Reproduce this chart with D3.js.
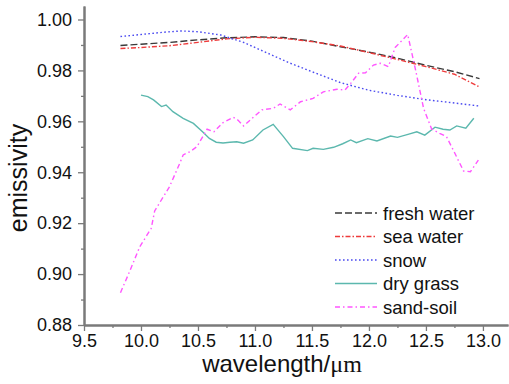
<!DOCTYPE html>
<html>
<head>
<meta charset="utf-8">
<script src="https://cdn.jsdelivr.net/npm/d3@7"></script>
<style>
  body { margin: 0; background: #fff; }
  svg { display: block; font-family: "Liberation Sans", Arial, sans-serif; }
</style>
</head>
<body>
<svg id="chart"></svg>
<script>
/* constants */
const SVG_WIDTH = 509;
const SVG_HEIGHT = 384;
const AXIS_COLOR = '#7a7a7a';

// tick values
const X_TICKS = [9.5, 10.0, 10.5, 11.0, 11.5, 12.0, 12.5, 13.0];
const X_MINOR = [9.75, 10.25, 10.75, 11.25, 11.75, 12.25, 12.75];
const Y_TICKS = [0.88, 0.90, 0.92, 0.94, 0.96, 0.98, 1.00];
const Y_MINOR = [0.89, 0.91, 0.93, 0.95, 0.97, 0.99];

// series data
const freshWaterWl = [9.82, 10.0, 10.25, 10.5, 10.75, 11.0, 11.25, 11.5, 11.75, 12.0, 12.25, 12.5, 12.75, 12.97];
const freshWater = [0.9898, 0.9903, 0.9910, 0.9920, 0.9928, 0.9932, 0.9929, 0.9915, 0.9893, 0.9872, 0.9848, 0.9820, 0.9795, 0.9768];

const seaWaterWl = [9.82, 10.0, 10.25, 10.5, 10.75, 11.0, 11.25, 11.5, 11.75, 12.0, 12.25, 12.5, 12.75, 12.97];
const seaWater = [0.9886, 0.9890, 0.9897, 0.9910, 0.9924, 0.9930, 0.9926, 0.9913, 0.9896, 0.9870, 0.9843, 0.9815, 0.9785, 0.9735];

const snowWl = [9.82, 10.0, 10.2, 10.35, 10.5, 10.7, 10.9, 11.1, 11.3, 11.5, 11.75, 12.0, 12.25, 12.5, 12.75, 12.97];
const snow = [0.9933, 0.9941, 0.9950, 0.9955, 0.9952, 0.9939, 0.9910, 0.9870, 0.9830, 0.9795, 0.9752, 0.9722, 0.9702, 0.9685, 0.9672, 0.9660];

const dryGrassWl = [10.0, 10.06, 10.11, 10.18, 10.22, 10.28, 10.37, 10.46, 10.54, 10.6, 10.66, 10.72, 10.78, 10.84, 10.9, 10.98,
    11.07, 11.16, 11.25, 11.33, 11.46, 11.51, 11.6, 11.69, 11.77, 11.84, 11.89, 11.99, 12.07, 12.19, 12.25, 12.35,
    12.42, 12.49, 12.58, 12.65, 12.71, 12.77, 12.85, 12.92];
const dryGrass = [0.9703, 0.9697, 0.9684, 0.9658, 0.9664, 0.9638, 0.9612, 0.9592, 0.9559, 0.9533, 0.9518, 0.9515, 0.9518, 0.9520, 0.9514, 0.9527,
    0.9566, 0.9588, 0.9540, 0.9494, 0.9485, 0.9494, 0.9490, 0.9498, 0.9512, 0.9527, 0.9516, 0.9532, 0.9523, 0.9542, 0.9537, 0.9550,
    0.9559, 0.9546, 0.9577, 0.9569, 0.9566, 0.9582, 0.9573, 0.9612];

const sandSoilWl = [9.82, 9.9, 9.99, 10.09, 10.12, 10.25, 10.34, 10.37, 10.43, 10.49, 10.55, 10.58, 10.64, 10.72, 10.81, 10.85,
    10.9, 10.99, 11.06, 11.16, 11.22, 11.31, 11.4, 11.51, 11.6, 11.72, 11.79, 11.84, 11.91, 11.97, 12.04, 12.1,
    12.17, 12.23, 12.34, 12.41, 12.48, 12.55, 12.62, 12.68, 12.74, 12.83, 12.89, 12.96];
const sandSoil = [0.8927, 0.9010, 0.9108, 0.9180, 0.9248, 0.9343, 0.9435, 0.9468, 0.9481, 0.9500, 0.9546, 0.9569, 0.9559, 0.9595, 0.9616, 0.9605,
    0.9582, 0.9618, 0.9645, 0.9651, 0.9668, 0.9645, 0.9677, 0.9690, 0.9716, 0.9726, 0.9723, 0.9749, 0.9789, 0.9791, 0.9821, 0.9828,
    0.9815, 0.9890, 0.9941, 0.9800, 0.9650, 0.9570, 0.9553, 0.9540, 0.9487, 0.9405, 0.9402, 0.9448];

const seriesNames = ['fresh water', 'sea water', 'snow', 'dry grass', 'sand-soil'];
const seriesColors = ['#3a3a3a', '#ee3b3b', '#4a4af0', '#5cb8ae', '#ff55ff'];
const seriesDashes = ['7,3', '5,2,1.5,2', '1.6,2.4', null, '5,3,1.5,3'];

const series = [
    [freshWaterWl, freshWater],
    [seaWaterWl, seaWater],
    [snowWl, snow],
    [dryGrassWl, dryGrass],
    [sandSoilWl, sandSoil]
].map(([wl, v], i) => ({
    name: seriesNames[i], color: seriesColors[i], dash: seriesDashes[i],
    points: wl.map((w, j) => [w, v[j]])
}));

// svg
const svg = d3.select('#chart').attr('width', SVG_WIDTH).attr('height', SVG_HEIGHT);

// scales
const xScale = d3.scaleLinear().domain([9.5, 13.22]).range([84, 508]);
const yScale = d3.scaleLinear().domain([0.88, 1.0053]).range([325, 6]);

// axes (major + minor)
function styleAxis(g) {
    g.select('.domain').attr('stroke', AXIS_COLOR).attr('stroke-width', 2);
    g.selectAll('.tick line').attr('stroke', AXIS_COLOR).attr('stroke-width', 1.3);
    g.selectAll('.tick text').attr('fill', '#111').attr('font-size', 18)
        .attr('font-family', '"Liberation Sans", Arial, sans-serif');
}

svg.append('g').attr('transform', 'translate(0,325)')
    .call(d3.axisBottom(xScale).tickValues(X_MINOR).tickSize(3).tickSizeOuter(0).tickFormat(''))
    .call(styleAxis);
svg.append('g').attr('transform', 'translate(0,325)')
    .call(d3.axisBottom(xScale).tickValues(X_TICKS).tickSize(6).tickPadding(3).tickSizeOuter(0).tickFormat(d3.format('.1f')))
    .call(styleAxis);

svg.append('g').attr('transform', 'translate(84,0)')
    .call(d3.axisLeft(yScale).tickValues(Y_MINOR).tickSize(3).tickSizeOuter(0).tickFormat(''))
    .call(styleAxis);
svg.append('g').attr('transform', 'translate(84,0)')
    .call(d3.axisLeft(yScale).tickValues(Y_TICKS).tickSize(6).tickPadding(6).tickSizeOuter(0).tickFormat(d3.format('.2f')))
    .call(styleAxis);

// axis titles
const xTitle = svg.append('text')
    .attr('x', 282).attr('y', 372).attr('text-anchor', 'middle')
    .attr('font-size', 24).attr('fill', '#111');
xTitle.append('tspan').text('wavelength/');
xTitle.append('tspan').attr('font-family', '"Liberation Serif", "Times New Roman", serif').text('μm');

svg.append('text')
    .attr('transform', 'translate(27,178) rotate(-90)')
    .attr('text-anchor', 'middle')
    .attr('font-size', 25).attr('fill', '#111')
    .text('emissivity');

// lines
const line = d3.line().x((d) => xScale(d[0])).y((d) => yScale(d[1]));

svg.selectAll('path.series').data(series).enter().append('path')
    .attr('class', 'series')
    .attr('fill', 'none')
    .attr('stroke', (d) => d.color)
    .attr('stroke-width', 1.4)
    .attr('stroke-dasharray', (d) => d.dash)
    .attr('d', (d) => line(d.points));

// legend
const legend = svg.selectAll('g.legend').data(series).enter().append('g')
    .attr('class', 'legend')
    .attr('transform', (d, i) => `translate(335,${213 + i * 23.5})`);

legend.append('line')
    .attr('x1', 0).attr('x2', 42).attr('y1', 0).attr('y2', 0)
    .attr('stroke', (d) => d.color).attr('stroke-width', 1.4)
    .attr('stroke-dasharray', (d) => d.dash);

legend.append('text')
    .attr('x', 48).attr('y', 6.5)
    .attr('font-size', 18.5).attr('fill', '#111')
    .text((d) => d.name);
</script>
</body>
</html>
